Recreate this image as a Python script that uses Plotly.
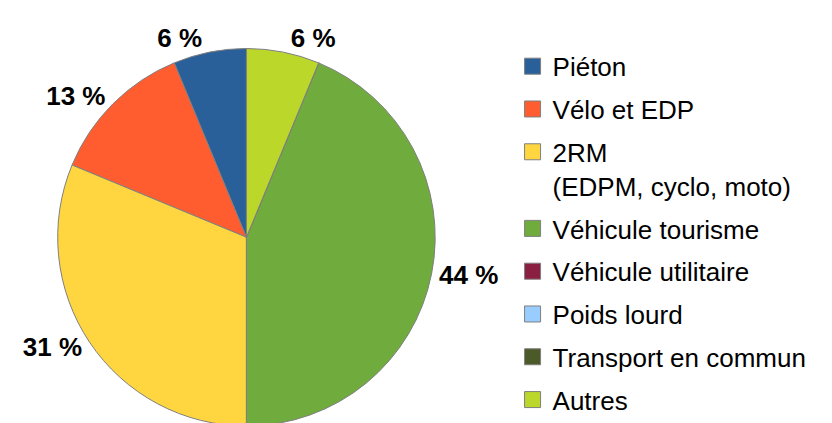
import plotly.graph_objects as go

categories = ["Piéton", "Vélo et EDP", "2RM<br>(EDPM, cyclo, moto)", "Véhicule tourisme",
              "Véhicule utilitaire", "Poids lourd", "Transport en commun", "Autres"]
values = [1, 2, 5, 7, 0, 0, 0, 1]
colors = ["#2a6099", "#ff5d30", "#ffd63f", "#6fac3d", "#8b1f41", "#99ccff", "#4b5a28", "#bbd72a"]

total = sum(values)
labels_txt = [(f"{int(v / total * 100 + 0.5)} %" if v > 0 else "") for v in values]

fig = go.Figure()
fig.add_trace(go.Pie(
    labels=categories,
    values=values,
    text=labels_txt,
    textinfo="text",
    textposition="outside",
    textfont=dict(family="Liberation Sans", size=26, color="#000000", weight="bold"),
    marker=dict(colors=colors, line=dict(color="#7f7f7f", width=1)),
    sort=False,
    direction="counterclockwise",
    rotation=-360 * values[0] / total,
    showlegend=False,
    domain=dict(x=[(237 - 194) / 832, (237 + 194) / 832], y=[0, (423 - 41) / 423]),
))

# legend entries (one group per category so the gap between entries can be set)
for cat, col in zip(categories, colors):
    fig.add_trace(go.Scatter(
        x=[None], y=[None], mode="markers", name=cat, legendgroup=cat,
        marker=dict(symbol="square", size=16, color=col, line=dict(color="#7f7f7f", width=1)),
        showlegend=True, hoverinfo="skip",
    ))

fig.update_layout(
    width=832, height=423,
    margin=dict(l=0, r=0, t=0, b=0),
    paper_bgcolor="white",
    plot_bgcolor="white",
    font=dict(family="Liberation Sans", size=26, color="#000000"),
    xaxis=dict(visible=False),
    yaxis=dict(visible=False),
    legend=dict(x=0.6055, y=0.9168, xanchor="left", yanchor="top", valign="top",
                tracegroupgap=6,
                font=dict(family="Liberation Sans", size=26, color="#000000"),
                bgcolor="rgba(0,0,0,0)"),
)

fig.write_html("out.html")
